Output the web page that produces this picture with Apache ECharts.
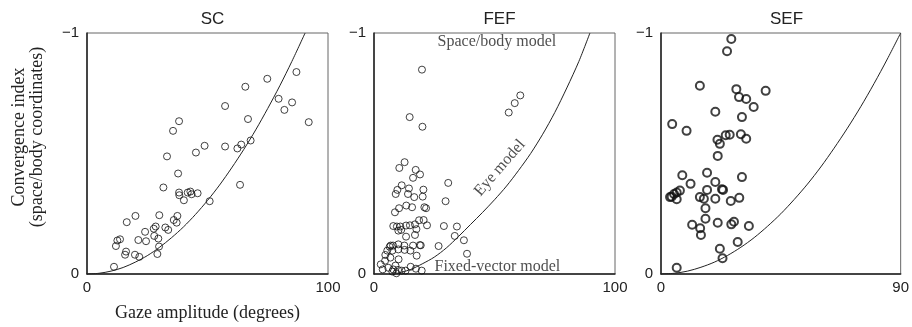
<!DOCTYPE html>
<html>
<head>
<meta charset="utf-8">
<script src="https://cdn.jsdelivr.net/npm/echarts@6/dist/echarts.min.js"></script>
<style>
  html, body { margin: 0; padding: 0; background: #fff; }
  #chart { width: 912px; height: 327px; }
</style>
</head>
<body>
<div id="chart"></div>
<script>
// panel names and x-axis ranges
const panels = ['SC', 'FEF', 'SEF']
const xMax = [100, 100, 90]

// gaze amplitude (deg), |convergence index|
const scPoints = [
  [11.2, 0.030], [12.0, 0.116], [12.6, 0.139], [13.7, 0.144], [15.8, 0.080], [16.2, 0.093],
  [16.5, 0.215], [19.9, 0.080], [20.1, 0.241], [21.3, 0.141], [21.7, 0.071], [24.1, 0.175],
  [24.5, 0.136], [27.7, 0.188], [28.5, 0.197], [27.9, 0.158], [29.6, 0.147], [29.9, 0.114],
  [29.2, 0.083], [30.0, 0.244], [31.7, 0.359], [32.5, 0.193], [33.7, 0.183], [33.2, 0.488],
  [35.7, 0.594], [38.2, 0.634], [36.0, 0.224], [37.2, 0.213], [37.5, 0.241], [37.8, 0.417],
  [38.2, 0.338], [38.3, 0.327], [40.2, 0.306], [41.8, 0.338], [42.9, 0.342], [43.4, 0.331],
  [45.9, 0.335], [45.2, 0.504], [48.8, 0.532], [50.9, 0.302], [57.3, 0.697], [57.3, 0.529],
  [62.4, 0.521], [63.5, 0.370], [64.0, 0.537], [65.7, 0.777], [66.8, 0.643], [67.9, 0.554],
  [74.8, 0.810], [79.5, 0.727], [81.9, 0.681], [85.1, 0.712], [86.9, 0.838], [92.0, 0.630]
]

const fefPoints = [
  [19.9, 0.848], [14.8, 0.651], [20.1, 0.611], [55.9, 0.670], [58.4, 0.709], [60.7, 0.741],
  [12.7, 0.464], [10.5, 0.440], [17.3, 0.432], [19.1, 0.413], [16.2, 0.399], [11.5, 0.368],
  [14.5, 0.355], [9.7, 0.349], [20.5, 0.350], [9.0, 0.332], [14.1, 0.332], [16.7, 0.319],
  [20.2, 0.321], [30.8, 0.378], [29.7, 0.302], [10.4, 0.273], [13.4, 0.284], [15.8, 0.277],
  [8.7, 0.256], [20.9, 0.277], [21.6, 0.273], [8.0, 0.199], [9.5, 0.197], [10.9, 0.197],
  [13.3, 0.201], [14.9, 0.202], [17.0, 0.206], [18.7, 0.223], [20.6, 0.224], [22.0, 0.202],
  [17.6, 0.186], [10.1, 0.180], [11.3, 0.183], [13.3, 0.155], [17.0, 0.162], [29.0, 0.199],
  [34.4, 0.197], [33.5, 0.158], [37.3, 0.140], [26.8, 0.116], [38.6, 0.084], [6.9, 0.118],
  [7.9, 0.118], [10.1, 0.123], [12.6, 0.118], [16.2, 0.118], [19.4, 0.119], [5.5, 0.097],
  [7.6, 0.097], [10.1, 0.102], [15.1, 0.097], [4.7, 0.079], [6.8, 0.068], [10.2, 0.061],
  [17.7, 0.076], [2.8, 0.040], [4.6, 0.055], [3.6, 0.019], [5.9, 0.026], [7.6, 0.010],
  [8.0, 0.019], [10.0, 0.017], [11.5, 0.014], [13.1, 0.014], [15.2, 0.030], [17.4, 0.022],
  [19.8, 0.014], [8.9, 0.035], [9.3, 0.003], [12.7, 0.100], [19.0, 0.120], [6.5, 0.113]
]

const sefPoints = [
  [26.4, 0.975], [24.8, 0.924], [14.6, 0.781], [28.3, 0.767], [39.3, 0.760], [29.3, 0.734],
  [32.0, 0.726], [34.8, 0.693], [20.4, 0.673], [30.4, 0.651], [4.2, 0.622], [9.6, 0.594],
  [24.3, 0.576], [25.8, 0.578], [21.2, 0.557], [22.1, 0.540], [30.0, 0.580], [32.0, 0.561],
  [21.3, 0.490], [8.0, 0.410], [17.3, 0.420], [30.4, 0.402], [11.1, 0.374], [20.4, 0.382],
  [22.9, 0.352], [23.3, 0.349], [17.3, 0.349], [7.1, 0.346], [5.9, 0.338], [4.9, 0.332],
  [4.0, 0.321], [3.4, 0.319], [5.9, 0.310], [14.6, 0.319], [16.1, 0.312], [20.4, 0.312],
  [26.2, 0.303], [29.4, 0.316], [16.7, 0.273], [16.7, 0.229], [21.3, 0.213], [26.4, 0.206],
  [27.4, 0.217], [11.7, 0.204], [14.7, 0.190], [15.0, 0.162], [33.0, 0.199], [28.8, 0.133],
  [22.1, 0.105], [23.1, 0.065], [5.9, 0.026]
]

// eye-model curves
const scCurve = [[0, 0], [5, 0.003], [10, 0.012], [15, 0.027], [20, 0.049], [25, 0.076],
  [30, 0.11], [35, 0.15], [40, 0.195], [45, 0.247], [50, 0.305], [55, 0.369], [60, 0.44],
  [65, 0.516], [70, 0.598], [75, 0.687], [80, 0.781], [85, 0.882], [90.5, 1]]
const fefCurve = [[10, 0.004], [15, 0.018], [20, 0.042], [25, 0.07], [30, 0.108],
  [35, 0.155], [40, 0.205], [45, 0.255], [50, 0.308], [55, 0.365], [60, 0.43], [65, 0.5],
  [70, 0.58], [75, 0.67], [80, 0.772], [85, 0.882], [89.6, 1]]
const sefCurve = [[0, 0], [5, 0.003], [10, 0.012], [15, 0.028], [20, 0.049], [25, 0.077],
  [30, 0.111], [35, 0.151], [40, 0.198], [45, 0.25], [50, 0.309], [55, 0.373], [60, 0.444],
  [65, 0.522], [70, 0.605], [75, 0.694], [80, 0.79], [85, 0.892], [90, 1]]

const fefNotes = [
  { name: 'Space/body model', value: [51, 0.962], rot: 0 },
  { name: 'Eye model', value: [52.2, 0.44], rot: 49 },
  { name: 'Fixed-vector model', value: [51.2, 0.03], rot: 0 }
]

const pts = [scPoints, fefPoints, sefPoints]
const curves = [scCurve, fefCurve, sefCurve]

const serif = '"Liberation Serif", "DejaVu Serif", serif'
const sans = '"Liberation Sans", Arial, sans-serif'
const lefts = [87, 374, 661]
const W = 241, H = 241, TOP = 33

const neg = (arr) => arr.map(p => [p[0], -p[1]])

const grid = lefts.map(l => ({
  left: l, top: TOP, width: W, height: H,
  show: true, borderColor: '#666', borderWidth: 1, backgroundColor: 'transparent'
}))

const xAxis = panels.map((p, i) => ({
  type: 'value', gridIndex: i, min: 0, max: xMax[i], interval: xMax[i],
  axisLine: { show: true, onZero: false, lineStyle: { color: '#222', width: 1.5 } },
  axisTick: { show: false },
  splitLine: { show: false },
  axisLabel: { color: '#222', fontFamily: sans, fontSize: 15, margin: 6 },
  name: i === 0 ? 'Gaze amplitude (degrees)' : '',
  nameLocation: 'middle', nameGap: 30,
  nameTextStyle: { color: '#222', fontFamily: serif, fontSize: 18 }
}))

const yAxis = panels.map((p, i) => ({
  type: 'value', gridIndex: i, min: -1, max: 0, interval: 1, inverse: true,
  axisLine: { show: true, onZero: false, lineStyle: { color: '#222', width: 1.5 } },
  axisTick: { show: false },
  splitLine: { show: false },
  axisLabel: {
    color: '#222', fontFamily: sans, fontSize: 15, margin: 8,
    formatter: v => String(v).replace('-', '\u2212')
  }
}))

const series = []
panels.forEach((p, i) => {
  series.push({
    type: 'line', xAxisIndex: i, yAxisIndex: i, data: neg(curves[i]),
    smooth: 0.3, showSymbol: false, silent: true,
    lineStyle: { color: '#222', width: 1 }
  })
  series.push({
    type: 'scatter', xAxisIndex: i, yAxisIndex: i, data: neg(pts[i]),
    symbol: 'circle', symbolSize: i === 2 ? 8 : 7,
    itemStyle: { color: 'rgba(0,0,0,0)', borderColor: '#111', borderWidth: i === 2 ? 2 : 1 }
  })
})
series.push({
  type: 'scatter', xAxisIndex: 1, yAxisIndex: 1, symbolSize: 0, silent: true,
  data: fefNotes.map(n => ({
    name: n.name, value: [n.value[0], -n.value[1]],
    label: { rotate: n.rot }
  })),
  label: {
    show: true, position: 'inside', formatter: '{b}',
    color: '#222', fontFamily: serif, fontSize: 16
  }
})

const option = {
  animation: false,
  title: panels.map((p, i) => ({
    text: p, left: lefts[i] + W / 2, top: 6, textAlign: 'center',
    textStyle: { color: '#222', fontFamily: sans, fontSize: 17, fontWeight: 'normal' }
  })),
  grid, xAxis, yAxis, series,
  graphic: [{
    type: 'text', x: 28, y: 137, rotation: Math.PI / 2,
    style: {
      text: 'Convergence index\n(space/body coordinates)',
      fontFamily: serif, fontSize: 18, lineHeight: 18, fill: '#222',
      align: 'center', verticalAlign: 'middle'
    }
  }]
}

const chart = echarts.init(document.getElementById('chart'))
chart.setOption(option)
</script>
</body>
</html>
